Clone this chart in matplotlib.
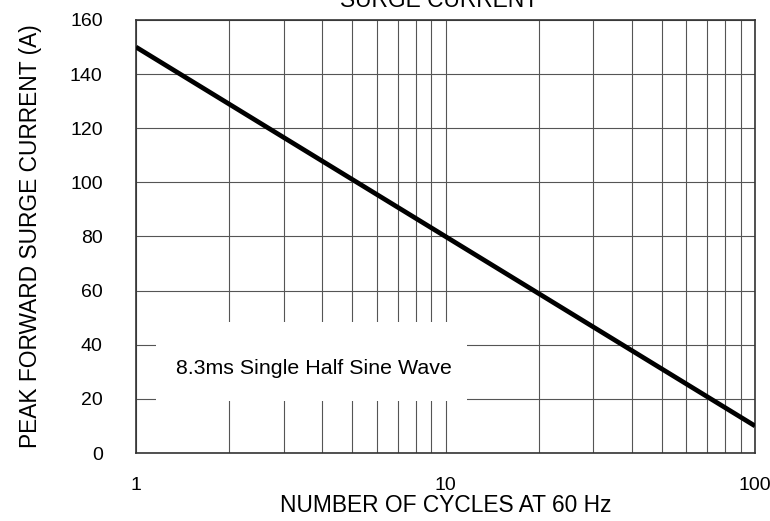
import matplotlib.pyplot as plt
from matplotlib.patches import Rectangle
from matplotlib.ticker import FixedLocator, NullFormatter

plt.rcParams['font.family'] = ['Liberation Sans', 'DejaVu Sans']

# data
cycles = [1, 10, 100]
surge_current = [150, 80, 10]

y_ticks = [0, 20, 40, 60, 80, 100, 120, 140, 160]
x_ticks = [1, 10, 100]
x_tick_labels = ["1", "10", "100"]

fig = plt.figure(figsize=(7.7, 5.21), dpi=100)
ax = fig.add_axes([136 / 770, 1 - 453 / 521, 619 / 770, 433 / 521])

ax.set_xscale("log")
ax.set_xlim(1, 100)
ax.set_ylim(0, 160)

minor = [m * d for d in (1, 10) for m in range(2, 10)]
ax.xaxis.set_major_locator(FixedLocator(x_ticks))
ax.xaxis.set_minor_locator(FixedLocator(minor))
ax.xaxis.set_minor_formatter(NullFormatter())
ax.set_xticklabels(x_tick_labels)
ax.set_yticks(y_ticks)

ax.grid(True, which="both", axis="x", color="#555555", lw=0.8)
ax.grid(True, which="major", axis="y", color="#555555", lw=0.8)
ax.tick_params(which="both", length=0)
ax.tick_params(axis="x", pad=17, labelsize=14)
ax.tick_params(axis="y", pad=24, labelsize=14)

for s in ax.spines.values():
    s.set_linewidth(1.2)
    s.set_color("#333333")

ax.plot(cycles, surge_current, color="black", lw=3.4, solid_capstyle="butt", zorder=3)

# white label box over the grid
ax.add_patch(Rectangle((0.032, 0.12), 0.503, 0.1825, transform=ax.transAxes,
                       facecolor="white", edgecolor="none", zorder=2.5))
ax.text(0.2876, 0.196, "8.3ms Single Half Sine Wave", transform=ax.transAxes,
        ha="center", va="center", fontsize=15.4, zorder=4)

ax.set_xlabel("NUMBER OF CYCLES AT 60 Hz", fontsize=16.4, labelpad=0)
ax.set_ylabel("PEAK FORWARD SURGE CURRENT (A)", fontsize=16.4, labelpad=20)

# top of the title is cut off in the original figure
fig.text(439 / 770, 1 - 7 / 521, "SURGE CURRENT", ha="center", va="baseline", fontsize=16.4)

fig.savefig("out.png", dpi=100)
